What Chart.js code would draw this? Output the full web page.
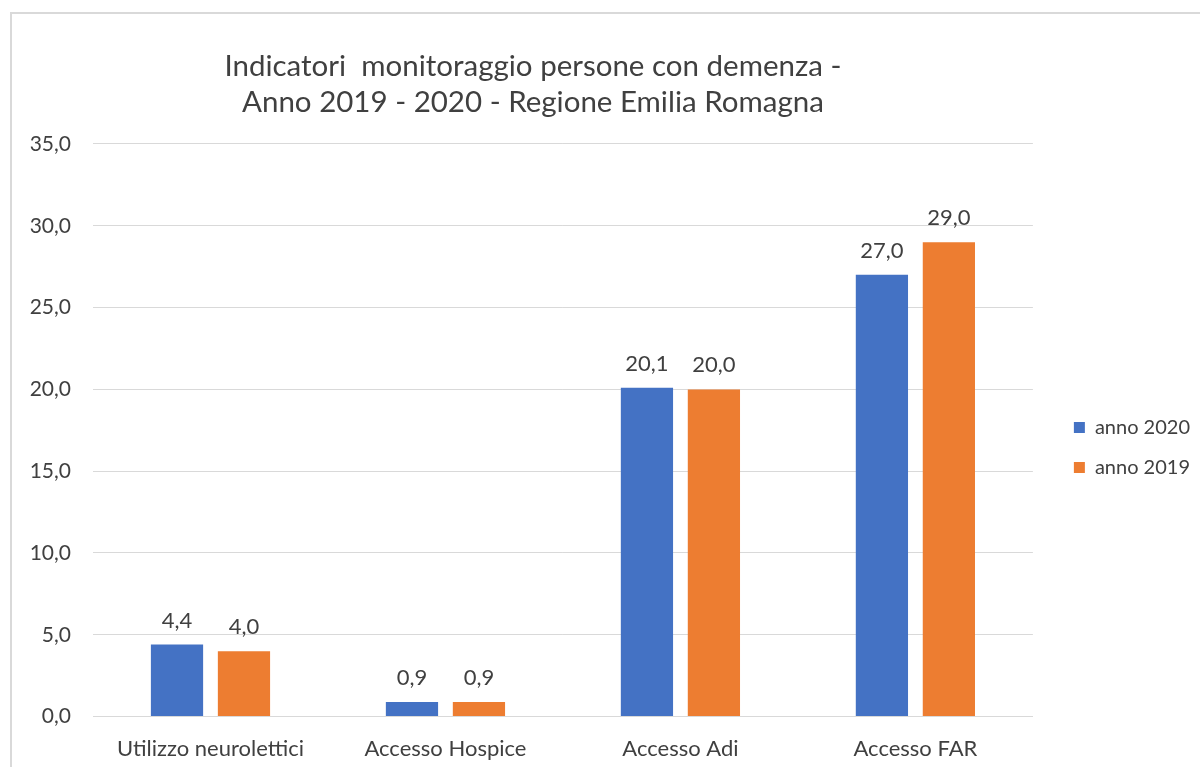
<!DOCTYPE html>
<html>
<head>
<meta charset="utf-8">
<script src="https://cdn.jsdelivr.net/npm/chart.js"></script>
<style>
  html, body { margin: 0; padding: 0; background: #fff; overflow: hidden; }
  .frame {
    position: absolute; left: 10px; top: 12px; width: 1400px; height: 1000px;
    border-left: 2px solid #d9d9d9; border-top: 2px solid #d9d9d9;
  }
  /* il grafico originale e' tagliato in basso */
  .chart-container { position: absolute; left: 0; top: 0; width: 1200px; height: 781px; }
</style>
</head>
<body>
<div class="frame"></div>
<div class="chart-container"><canvas id="myChart"></canvas></div>
<script>
const categories = ['Utilizzo neurolettici', 'Accesso Hospice', 'Accesso Adi', 'Accesso FAR'];
const anno2020 = [4.4, 0.9, 20.1, 27.0];
const anno2019 = [4.0, 0.9, 20.0, 29.0];
const titleLines = ['Indicatori  monitoraggio persone con demenza -', 'Anno 2019 - 2020 - Regione Emilia Romagna'];

const fontFamily = 'Lato, "Open Sans", sans-serif';
const formatValue = v => Number(v).toFixed(1).replace('.', ',');

// etichette dei valori sopra le barre
const valueLabels = {
  id: 'valueLabels',
  afterDatasetsDraw(chart) {
    const ctx = chart.ctx;
    ctx.save();
    ctx.font = '22px ' + fontFamily;
    ctx.fillStyle = '#404040';
    ctx.textAlign = 'center';
    ctx.textBaseline = 'middle';
    chart.data.datasets.forEach((ds, i) => {
      chart.getDatasetMeta(i).data.forEach((bar, j) => {
        ctx.fillText(formatValue(ds.data[j]), bar.x, bar.y - 24);
      });
    });
    ctx.restore();
  }
};

// titolo un po' spostato a sinistra come nell'originale
const titleShift = {
  id: 'titleShift',
  afterLayout(chart) {
    chart.titleBlock.right -= 60;
  }
};

new Chart(document.getElementById('myChart').getContext('2d'), {
  type: 'bar',
  data: {
    labels: categories,
    datasets: [
      {
        label: 'anno 2020',
        data: anno2020,
        backgroundColor: '#4472C4',
        barPercentage: 0.78,
        categoryPercentage: 0.57,
      },
      {
        label: 'anno 2019',
        data: anno2019,
        backgroundColor: '#ED7D31',
        barPercentage: 0.78,
        categoryPercentage: 0.57,
      },
    ],
  },
  plugins: [valueLabels, titleShift],
  options: {
    responsive: true,
    maintainAspectRatio: false,
    animation: false,
    layout: { padding: { left: 30, right: 0, top: 48, bottom: 0 } },
    plugins: {
      title: {
        display: true,
        text: titleLines,
        fullSize: false,
        color: '#404040',
        font: { family: fontFamily, size: 29.5, weight: 'normal', lineHeight: 1.22 },
        padding: { top: 0, bottom: 24 },
      },
      legend: {
        position: 'right',
        fullSize: false,
        title: { display: true, text: '', padding: { top: 20, bottom: 0 } },
        labels: {
          boxWidth: 11,
          boxHeight: 11,
          padding: 20,
          color: '#404040',
          font: { family: fontFamily, size: 20 },
        },
      },
      tooltip: { enabled: false },
    },
    scales: {
      x: {
        grid: { display: false, drawTicks: false },
        border: { color: '#d9d9d9' },
        ticks: {
          color: '#404040',
          padding: 19,
          font: { family: fontFamily, size: 22 },
        },
      },
      y: {
        min: 0,
        max: 35,
        afterFit: scale => { scale.width = 63; },
        grid: { color: '#d9d9d9', drawTicks: false },
        border: { display: false },
        ticks: {
          stepSize: 5,
          padding: 22,
          color: '#404040',
          font: { family: fontFamily, size: 21 },
          callback: value => formatValue(value),
        },
      },
      gap: {
        position: 'right',
        display: true,
        afterFit: scale => { scale.width = 21; },
        grid: { display: false },
        border: { display: false },
        ticks: { display: false },
      },
    },
  },
});
</script>
</body>
</html>
